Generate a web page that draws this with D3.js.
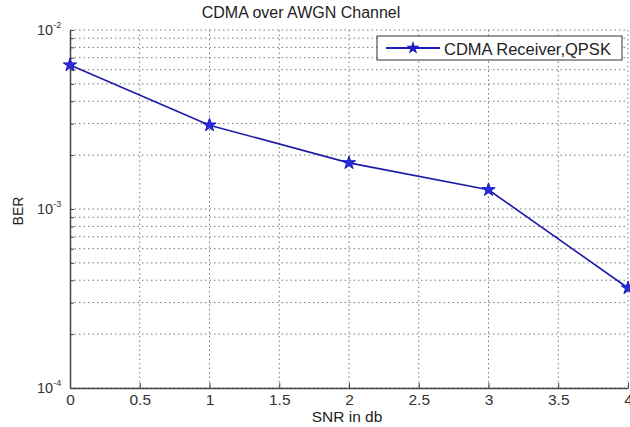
<!DOCTYPE html>
<html>
<head>
<meta charset="utf-8">
<script src="https://cdn.jsdelivr.net/npm/d3@7"></script>
<style>
body { margin: 0; background: #fff; }
text { font-family: "Liberation Sans", Arial, sans-serif; }
</style>
</head>
<body>
<div id="chart"></div>
<script>
var snr = [0, 1, 2, 3, 4];
var ber = [0.00637, 0.00294, 0.00181, 0.00128, 0.000362];
var xTicks = [0, 0.5, 1, 1.5, 2, 2.5, 3, 3.5, 4];
var yMajor = [1e-4, 1e-3, 1e-2];

var width = 630;
var height = 427;
var padding = {top: 30, right: 2, left: 70, bottom: 39};

var svg = d3.select("#chart").append("svg").attr("width", width).attr("height", height);

var x = d3.scaleLinear().domain([0, 4]).range([padding.left, width - padding.right]);
var y = d3.scaleLog().domain([1e-4, 1e-2]).range([height - padding.bottom, padding.top]);

// minor values for grid
var yMinor = [];
[1e-4, 1e-3].forEach(function (d) {
    for (var k = 2; k <= 9; k++) yMinor.push(d * k);
});
var yGrid = yMajor.concat(yMinor);

// grid
svg.append("g").selectAll("line.hg")
    .data(yGrid)
    .enter()
    .append("line")
    .attr("x1", padding.left)
    .attr("x2", width - padding.right)
    .attr("y1", function (d) { return y(d); })
    .attr("y2", function (d) { return y(d); })
    .attr("stroke", "#777")
    .attr("stroke-width", 1)
    .attr("stroke-dasharray", "1.5,3");

svg.append("g").selectAll("line.vg")
    .data(xTicks.slice(1))
    .enter()
    .append("line")
    .attr("x1", function (d) { return x(d); })
    .attr("x2", function (d) { return x(d); })
    .attr("y1", padding.top)
    .attr("y2", height - padding.bottom)
    .attr("stroke", "#777")
    .attr("stroke-width", 1)
    .attr("stroke-dasharray", "1.5,3");

// axes
var xAxis = d3.axisBottom(x).tickValues(xTicks).tickSizeInner(-5).tickSizeOuter(0)
    .tickPadding(6).tickFormat(d3.format("~g"));
var gx = svg.append("g")
    .attr("transform", "translate(0," + (height - padding.bottom) + ")")
    .call(xAxis);
gx.select(".domain").attr("stroke", "#444").attr("stroke-width", 1.5);
gx.selectAll(".tick line").attr("stroke", "#444");
gx.selectAll(".tick text").attr("font-size", "15.5px").attr("fill", "#333")
    .attr("font-family", "Liberation Sans, Arial, sans-serif");

var yAxis = d3.axisLeft(y).tickValues(yGrid).tickSizeInner(-4).tickSizeOuter(0).tickFormat("");
var gy = svg.append("g")
    .attr("transform", "translate(" + padding.left + ",0)")
    .call(yAxis);
gy.select(".domain").attr("stroke", "#444").attr("stroke-width", 1.5);
gy.selectAll(".tick line").attr("stroke", "#444");

// y tick labels 10^n
var yl = svg.append("g").selectAll("text")
    .data(yMajor)
    .enter()
    .append("text")
    .attr("x", padding.left - 33)
    .attr("y", function (d) { return y(d) + 5; })
    .attr("font-size", "14.5px")
    .attr("fill", "#333");
yl.append("tspan").text("10");
yl.append("tspan")
    .attr("dy", -7)
    .attr("font-size", "9px")
    .text(function (d) { return Math.round(Math.log10(d)); });

// line
var line = d3.line()
    .x(function (d, i) { return x(snr[i]); })
    .y(function (d) { return y(d); });

svg.append("path")
    .datum(ber)
    .attr("fill", "none")
    .attr("stroke", "#1c1ca8")
    .attr("stroke-width", 1.6)
    .attr("d", line);

var star = d3.symbol().type(d3.symbolStar).size(55);
svg.append("g").selectAll("path")
    .data(ber)
    .enter()
    .append("path")
    .attr("d", star)
    .attr("transform", function (d, i) { return "translate(" + x(snr[i]) + "," + y(d) + ")"; })
    .attr("fill", "#2a2ae0")
    .attr("stroke", "#1c1cc0")
    .attr("stroke-width", 1);

// legend
var lg = svg.append("g");
lg.append("rect")
    .attr("x", 377).attr("y", 36)
    .attr("width", 245).attr("height", 24)
    .attr("fill", "#fff")
    .attr("stroke", "#333")
    .attr("stroke-width", 1);
lg.append("line")
    .attr("x1", 386).attr("x2", 440)
    .attr("y1", 48).attr("y2", 48)
    .attr("stroke", "#1c1cc0")
    .attr("stroke-width", 2);
lg.append("path")
    .attr("d", star)
    .attr("transform", "translate(413,48)")
    .attr("fill", "#1c1cc0");
lg.append("text")
    .attr("x", 444).attr("y", 54.5)
    .attr("font-size", "16.5px")
    .attr("fill", "#222")
    .text("CDMA Receiver,QPSK");

// titles
svg.append("text")
    .attr("x", 301).attr("y", 18)
    .attr("text-anchor", "middle")
    .attr("font-size", "16px")
    .attr("fill", "#222")
    .text("CDMA over AWGN Channel");

svg.append("text")
    .attr("x", 347).attr("y", 422)
    .attr("text-anchor", "middle")
    .attr("font-size", "15.5px")
    .attr("fill", "#222")
    .text("SNR in db");

svg.append("text")
    .attr("transform", "translate(23,211) rotate(-90)")
    .attr("text-anchor", "middle")
    .attr("font-size", "14px")
    .attr("fill", "#222")
    .text("BER");
</script>
</body>
</html>
